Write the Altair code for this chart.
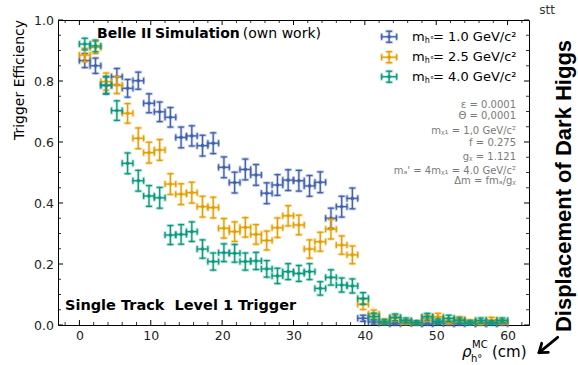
import altair as alt
import pandas as pd

# ---- measured trigger efficiency per 1.5 cm bin of the dark Higgs displacement ----
bin_centres = [0.75, 2.25, 3.75, 5.25, 6.75, 8.25, 9.75, 11.25, 12.75, 14.25,
               15.75, 17.25, 18.75, 20.25, 21.75, 23.25, 24.75, 26.25, 27.75, 29.25,
               30.75, 32.25, 33.75, 35.25, 36.75, 38.25, 39.75, 41.25, 42.75, 44.25,
               45.75, 47.25, 48.75, 50.25, 51.75, 53.25, 54.75, 56.25, 57.75, 59.25]
bin_half_width = 0.75

eff_m10 = [0.867, 0.850, 0.785, 0.814, 0.776, 0.801, 0.727, 0.699, 0.681, 0.615,
           0.620, 0.588, 0.596, 0.517, 0.467, 0.510, 0.492, 0.432, 0.459, 0.475,
           0.473, 0.456, 0.468, 0.350, 0.388, 0.415, 0.022, 0.010, 0.006, 0.004,
           0.008, 0.005, 0.003, 0.007, 0.005, 0.004, 0.006, 0.003, 0.005, 0.004]
err_m10 = [0.023, 0.025, 0.028, 0.027, 0.029, 0.028, 0.031, 0.032, 0.032, 0.034,
           0.033, 0.034, 0.034, 0.034, 0.034, 0.034, 0.034, 0.034, 0.034, 0.034,
           0.034, 0.034, 0.034, 0.033, 0.034, 0.034, 0.010, 0.007, 0.005, 0.004,
           0.006, 0.005, 0.004, 0.006, 0.005, 0.004, 0.005, 0.004, 0.005, 0.004]

eff_m25 = [0.885, 0.910, 0.798, 0.787, 0.694, 0.612, 0.565, 0.574, 0.462, 0.429,
           0.434, 0.388, 0.385, 0.317, 0.306, 0.320, 0.297, 0.277, 0.319, 0.358,
           0.328, 0.249, 0.273, 0.314, 0.262, 0.230, 0.068, 0.036, 0.012, 0.022,
           0.010, 0.008, 0.022, 0.027, 0.012, 0.018, 0.010, 0.008, 0.016, 0.010]
err_m25 = [0.022, 0.020, 0.028, 0.028, 0.032, 0.034, 0.034, 0.034, 0.034, 0.034,
           0.034, 0.034, 0.034, 0.032, 0.032, 0.032, 0.032, 0.031, 0.032, 0.033,
           0.032, 0.030, 0.031, 0.032, 0.030, 0.029, 0.017, 0.013, 0.008, 0.010,
           0.007, 0.006, 0.010, 0.011, 0.008, 0.009, 0.007, 0.006, 0.009, 0.007]

eff_m40 = [0.921, 0.915, 0.787, 0.703, 0.530, 0.473, 0.423, 0.417, 0.295, 0.297,
           0.306, 0.249, 0.208, 0.237, 0.235, 0.208, 0.210, 0.184, 0.161, 0.175,
           0.169, 0.175, 0.120, 0.156, 0.131, 0.128, 0.087, 0.028, 0.010, 0.025,
           0.015, 0.008, 0.027, 0.012, 0.022, 0.015, 0.008, 0.015, 0.008, 0.015]
err_m40 = [0.019, 0.019, 0.028, 0.032, 0.034, 0.034, 0.034, 0.034, 0.031, 0.032,
           0.032, 0.030, 0.028, 0.029, 0.029, 0.028, 0.028, 0.027, 0.025, 0.026,
           0.026, 0.026, 0.022, 0.025, 0.023, 0.023, 0.019, 0.011, 0.007, 0.011,
           0.008, 0.006, 0.011, 0.008, 0.010, 0.008, 0.006, 0.008, 0.006, 0.008]

series_labels = ["= 1.0 GeV/c²", "= 2.5 GeV/c²", "= 4.0 GeV/c²"]
series_colors = ["#4262AB", "#E69F00", "#0A9B7E"]

# axis ticks
x_major = [0, 10, 20, 30, 40, 50, 60]
x_minor = [-2, 2, 4, 6, 8, 12, 14, 16, 18, 22, 24, 26, 28, 32, 34, 36, 38,
           42, 44, 46, 48, 52, 54, 56, 58, 62]
y_major = [0.0, 0.2, 0.4, 0.6, 0.8, 1.0]
y_minor = [0.05, 0.1, 0.15, 0.25, 0.3, 0.35, 0.45, 0.5, 0.55, 0.65, 0.7, 0.75,
           0.85, 0.9, 0.95]

# legend entries (data coordinates)
legend_x = 43.4
legend_y = [0.945, 0.878, 0.814]
legend_xerr = 1.05
legend_yerr = 0.018

param_lines = ["ε = 0.0001", "Θ = 0,0001", "mᵪ₁ = 1,0 GeV/c²", "f = 0.275",
               "gᵪ = 1.121", "mₐ' = 4mᵪ₁ = 4.0 GeV/c²", "Δm = fmₐ/gᵪ"]
param_y = [0.721, 0.685, 0.637, 0.596, 0.552, 0.505, 0.473]

W, H = 471, 305
FONT = "DejaVu Sans"

x_scale = alt.Scale(domain=[-3, 63], nice=False, zero=False)
y_scale = alt.Scale(domain=[0, 1], nice=False, zero=False)
x_axis = alt.Axis(values=x_major, format="d", title=None, grid=False, ticks=False,
                  tickSize=0, domain=False, labelFontSize=12.5, labelFont=FONT,
                  labelColor="#222", labelPadding=4)
y_axis = alt.Axis(values=y_major, format=".1f", title=None, grid=False, ticks=False,
                  tickSize=0, domain=False, labelFontSize=12.5, labelFont=FONT,
                  labelColor="#222", labelPadding=4.5)


def X(f):
    return alt.X(f, type="quantitative", scale=x_scale, axis=x_axis)


def Y(f):
    return alt.Y(f, type="quantitative", scale=y_scale, axis=y_axis)


def errorbars(df, color, cap=6):
    """Cross-shaped error bars with caps, a soft halo and a centre dot."""
    base = alt.Chart(df)
    out = []
    for sw, op, extra in [(3.0, 0.25, 2), (1.3, 1.0, 0)]:
        kw = dict(color=color, strokeWidth=sw, opacity=op,
                  strokeCap="square" if extra else "butt")
        out.append(base.mark_rule(**kw).encode(x=X("x"), y=Y("ylo"), y2="yhi"))
        out.append(base.mark_rule(**kw).encode(x=X("xlo"), x2="xhi", y=Y("y")))
        tk = dict(color=color, opacity=op, thickness=sw, size=cap + extra)
        out.append(base.mark_tick(orient="horizontal", **tk).encode(x=X("x"), y=Y("ylo")))
        out.append(base.mark_tick(orient="horizontal", **tk).encode(x=X("x"), y=Y("yhi")))
        out.append(base.mark_tick(orient="vertical", **tk).encode(x=X("xlo"), y=Y("y")))
        out.append(base.mark_tick(orient="vertical", **tk).encode(x=X("xhi"), y=Y("y")))
    out.append(base.mark_circle(color=color, opacity=1, size=13).encode(x=X("x"), y=Y("y")))
    return out


def series_frame(eff, err):
    return pd.DataFrame({
        "x": bin_centres,
        "xlo": [c - bin_half_width for c in bin_centres],
        "xhi": [c + bin_half_width for c in bin_centres],
        "y": eff,
        "ylo": [max(e - s, 0) for e, s in zip(eff, err)],
        "yhi": [e + s for e, s in zip(eff, err)],
    })


layers = []

# inward ticks on all four sides
def tick_layers(vals, length, sw):
    out = []
    xs = alt.Chart(pd.DataFrame({"t": vals[0]}))
    out.append(xs.mark_rule(color="black", strokeWidth=sw).encode(
        x=X("t"), y=alt.value(H), y2=alt.value(H - length)))
    out.append(xs.mark_rule(color="black", strokeWidth=sw).encode(
        x=X("t"), y=alt.value(0), y2=alt.value(length)))
    ys = alt.Chart(pd.DataFrame({"t": vals[1]}))
    out.append(ys.mark_rule(color="black", strokeWidth=sw).encode(
        y=Y("t"), x=alt.value(0), x2=alt.value(length)))
    out.append(ys.mark_rule(color="black", strokeWidth=sw).encode(
        y=Y("t"), x=alt.value(W), x2=alt.value(W - length)))
    return out

layers += tick_layers((x_major, y_major), 5, 1.0)
layers += tick_layers((x_minor, y_minor), 3, 0.8)

# data series: drawn in order so that later masses sit on top
for eff, err, col in [(eff_m10, err_m10, series_colors[0]),
                      (eff_m25, err_m25, series_colors[1]),
                      (eff_m40, err_m40, series_colors[2])]:
    layers += errorbars(series_frame(eff, err), col)

# legend symbols
for ly, col in zip(legend_y, series_colors):
    ldf = pd.DataFrame({"x": [legend_x], "xlo": [legend_x - legend_xerr],
                        "xhi": [legend_x + legend_xerr], "y": [ly],
                        "ylo": [ly - legend_yerr], "yhi": [ly + legend_yerr]})
    layers += errorbars(ldf, col)

# legend text: "m", subscript "h°", then the mass value
leg = pd.DataFrame({"y": legend_y, "label": series_labels})
for pos, kw in [("46.6", dict(text="m", fontSize=13)),
                ("48.4", dict(text="h°", fontSize=8, dy=4)),
                ("49.55", dict(fontSize=13))]:
    enc = dict(x=alt.X("m:Q", scale=x_scale, axis=x_axis), y=Y("y"))
    if "text" not in kw:
        enc["text"] = "label:N"
    layers.append(alt.Chart(leg).mark_text(align="left", baseline="middle", font=FONT,
                                           color="black", **kw).encode(**enc
    ).transform_calculate(m=pos))

# experiment label
head = pd.DataFrame({"x": [2.46, 10.59], "y": [0.942, 0.942], "t": ["Belle II", "Simulation"]})
layers.append(alt.Chart(head).mark_text(align="left", baseline="alphabetic", font=FONT,
                                        fontSize=14, fontWeight="bold", color="black").encode(
    x=X("x"), y=Y("y"), text="t:N"))
own = pd.DataFrame({"x": [22.9], "y": [0.942], "t": ["(own work)"]})
layers.append(alt.Chart(own).mark_text(align="left", baseline="alphabetic", font=FONT,
                                       fontSize=14, color="black").encode(
    x=X("x"), y=Y("y"), text="t:N"))
trig = pd.DataFrame({"x": [-2.02], "y": [0.049], "t": ["Single Track\u00a0 Level 1 Trigger"]})
layers.append(alt.Chart(trig).mark_text(align="left", baseline="alphabetic", font=FONT,
                                        fontSize=14.5, fontWeight="bold", color="black").encode(
    x=X("x"), y=Y("y"), text="t:N"))

# model parameters
par = pd.DataFrame({"x": [61.18] * len(param_lines), "y": param_y, "t": param_lines})
layers.append(alt.Chart(par).mark_text(align="right", baseline="middle", font=FONT,
                                       fontSize=10, color="#7a7a7a").encode(
    x=X("x"), y=Y("y"), text="t:N"))

# text and arrow outside the frame
one = pd.DataFrame({"a": [0]})
def label(text, x, y, **kw):
    return alt.Chart(one).mark_text(text=text, font=kw.pop("font", FONT), **kw).encode(
        x=alt.value(x), y=alt.value(y))

layers.append(label("Trigger Efficiency", -38, 60, angle=270, align="center",
                    baseline="middle", fontSize=14, color="black"))
layers.append(label("stt", 489, -10, align="center", baseline="middle",
                    fontSize=12, color="#333"))
layers.append(label("ρ", 404, 337, align="left", baseline="alphabetic", fontSize=15,
                    fontStyle="italic", color="black"))
layers.append(label("MC", 414, 328, align="left", baseline="alphabetic", fontSize=10,
                    color="black"))
layers.append(label("h°", 413, 342, align="left", baseline="alphabetic", fontSize=10,
                    color="black"))
layers.append(label("(cm)", 434, 337, align="left", baseline="alphabetic", fontSize=15,
                    color="black"))
layers.append(label("Displacement of Dark Higgs", 506, 166, angle=270, align="center",
                    baseline="middle", fontSize=22, fontWeight="bold",
                    font="Liberation Sans", color="black"))

arrow = [((499.7, 317.3), (481.0, 332.7)),
         ((481.0, 332.7), (483.7, 323.3)),
         ((481.0, 332.7), (490.3, 332.3))]
for (xa, ya), (xb, yb) in arrow:
    layers.append(alt.Chart(one).mark_rule(color="black", strokeWidth=2.8,
                                           strokeCap="round").encode(
        x=alt.value(xa), y=alt.value(ya), x2=alt.value(xb), y2=alt.value(yb)))

chart = alt.layer(*layers).properties(
    width=W, height=H,
    autosize=alt.AutoSizeParams(type="none"),
    padding={"left": 58, "top": 20, "right": 49, "bottom": 40},
    background="white",
).configure_view(stroke="black", strokeWidth=1)

chart.save("out.html", embed_options={"renderer": "svg", "actions": False})
